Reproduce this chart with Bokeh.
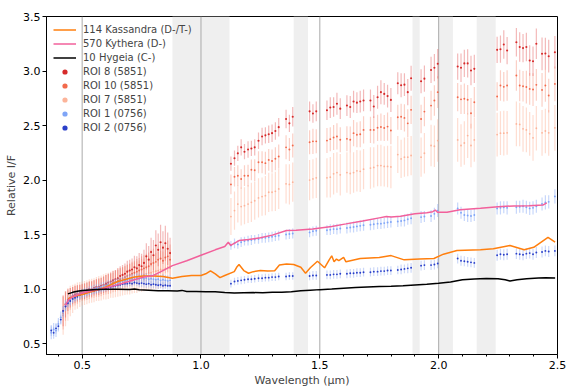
from bokeh.plotting import figure
from bokeh.models import (ColumnDataSource, BoxAnnotation, Span, FixedTicker,
                          Legend, LegendItem, NumeralTickFormatter)
from bokeh.embed import file_html
from bokeh.resources import INLINE

# ---------------- data ----------------
# masked (telluric / order-gap) wavelength bands, µm
bands = [(0.88, 1.12), (1.39, 1.45), (1.89, 1.92), (2.00, 2.06), (2.16, 2.24)]
ref_lines = [0.5, 1.0, 1.5, 2.0]

x_major = [0.5, 1.0, 1.5, 2.0, 2.5]
x_minor = [0.4, 0.6, 0.7, 0.8, 0.9, 1.1, 1.2, 1.3, 1.4, 1.6, 1.7, 1.8, 1.9,
           2.1, 2.2, 2.3, 2.4]
y_major = [0.5, 1.0, 1.5, 2.0, 2.5, 3.0, 3.5]

# reference asteroid spectra
hyg_wl = [0.44, 0.46, 0.48, 0.50, 0.53, 0.56, 0.60, 0.65, 0.70, 0.72, 0.74, 0.78,
          0.82, 0.86, 0.90, 0.92, 0.94, 0.98, 1.02, 1.06, 1.10, 1.14, 1.18, 1.22,
          1.26, 1.30, 1.34, 1.38, 1.42, 1.46, 1.50, 1.55, 1.60, 1.65, 1.70, 1.75,
          1.80, 1.85, 1.90, 1.95, 2.00, 2.05, 2.10, 2.15, 2.20, 2.25, 2.28, 2.30,
          2.33, 2.37, 2.42, 2.45, 2.49]
hyg_val = [0.956, 0.970, 0.980, 0.986, 0.992, 0.997, 0.998, 0.998, 0.997, 1.000,
           0.993, 0.990, 0.985, 0.985, 0.983, 0.988, 0.978, 0.977, 0.975, 0.975,
           0.968, 0.965, 0.967, 0.968, 0.966, 0.972, 0.971, 0.975, 0.985, 0.990,
           0.995, 1.000, 1.008, 1.015, 1.020, 1.023, 1.025, 1.030, 1.038, 1.045,
           1.053, 1.065, 1.085, 1.093, 1.096, 1.095, 1.085, 1.075, 1.085, 1.095,
           1.102, 1.103, 1.102]

kas_wl = [0.44, 0.46, 0.48, 0.50, 0.53, 0.56, 0.60, 0.65, 0.70, 0.72, 0.76, 0.80,
          0.84, 0.88, 0.92, 0.96, 1.00, 1.02, 1.04, 1.06, 1.08, 1.10, 1.14, 1.15,
          1.16, 1.18, 1.20, 1.22, 1.25, 1.28, 1.31, 1.33, 1.36, 1.39, 1.42, 1.44,
          1.46, 1.49, 1.52, 1.54, 1.55, 1.56, 1.57, 1.58, 1.60, 1.61, 1.67, 1.75,
          1.80, 1.855, 1.92, 1.98, 2.02, 2.077, 2.176, 2.23, 2.30, 2.36, 2.40,
          2.46, 2.49]
kas_val = [0.91, 0.93, 0.94, 0.95, 0.97, 0.99, 1.02, 1.07, 1.10, 1.11, 1.12, 1.12,
           1.115, 1.10, 1.115, 1.125, 1.125, 1.14, 1.168, 1.14, 1.105, 1.125, 1.16,
           1.20, 1.225, 1.17, 1.145, 1.16, 1.17, 1.165, 1.168, 1.22, 1.23, 1.225,
           1.20, 1.145, 1.195, 1.255, 1.195, 1.27, 1.305, 1.25, 1.275, 1.26, 1.29,
           1.25, 1.28, 1.29, 1.307, 1.268, 1.277, 1.28, 1.32, 1.353, 1.36, 1.369,
           1.40, 1.36, 1.383, 1.475, 1.43]

kyt_wl = [0.43, 0.44, 0.46, 0.50, 0.55, 0.58, 0.65, 0.72, 0.76, 0.80, 0.84, 0.88,
          0.94, 1.00, 1.06, 1.10, 1.115, 1.125, 1.16, 1.20, 1.25, 1.30, 1.36, 1.40,
          1.47, 1.55, 1.61, 1.68, 1.75, 1.78, 1.80, 1.84, 1.90, 1.95, 1.975, 1.986,
          1.995, 2.035, 2.09, 2.176, 2.25, 2.316, 2.38, 2.44, 2.455]
kyt_val = [0.85, 0.895, 0.93, 0.965, 0.99, 1.00, 1.04, 1.085, 1.11, 1.125, 1.17,
           1.215, 1.26, 1.31, 1.36, 1.39, 1.43, 1.40, 1.445, 1.455, 1.47, 1.495,
           1.537, 1.54, 1.552, 1.575, 1.598, 1.625, 1.653, 1.665, 1.66, 1.668,
           1.69, 1.70, 1.71, 1.725, 1.705, 1.705, 1.727, 1.742, 1.755, 1.763,
           1.765, 1.772, 1.79]

# ROI spectra: visible part
vis_wl_blue = [0.37, 0.38, 0.39, 0.40, 0.41, 0.42, 0.43, 0.44, 0.45, 0.46,
               0.47, 0.48, 0.49, 0.50, 0.51, 0.52, 0.53, 0.54, 0.55, 0.56,
               0.57, 0.58, 0.59, 0.60, 0.61, 0.62, 0.63, 0.64, 0.65, 0.66,
               0.67, 0.68, 0.69, 0.70, 0.71, 0.72, 0.73, 0.74, 0.75, 0.76,
               0.77, 0.78, 0.79, 0.80, 0.81, 0.82, 0.83, 0.84, 0.85, 0.86,
               0.87]
vis_wl_red = [0.42, 0.43, 0.44, 0.45, 0.46, 0.47, 0.48, 0.49, 0.50, 0.51,
              0.52, 0.53, 0.54, 0.55, 0.56, 0.57, 0.58, 0.59, 0.60, 0.61,
              0.62, 0.63, 0.64, 0.65, 0.66, 0.67, 0.68, 0.69, 0.70, 0.71,
              0.72, 0.73, 0.74, 0.75, 0.76, 0.77, 0.78, 0.79, 0.80, 0.81,
              0.82, 0.83, 0.84, 0.85, 0.86, 0.87]

roi8_vis = [0.80, 0.86, 0.90, 0.92, 0.94, 0.95, 0.96, 0.97, 0.975, 0.98,
            0.99, 1.00, 1.00, 1.01, 1.02, 1.02, 1.03, 1.04, 1.05, 1.06,
            1.07, 1.08, 1.09, 1.10, 1.12, 1.13, 1.14, 1.16, 1.17, 1.18,
            1.20, 1.19, 1.22, 1.21, 1.24, 1.30, 1.27, 1.34, 1.31, 1.40,
            1.36, 1.43, 1.38, 1.42, 1.37, 1.33]
roi8_vis_err = [0.14, 0.12, 0.10, 0.09, 0.08, 0.08, 0.075, 0.07, 0.07, 0.07,
                0.07, 0.07, 0.07, 0.07, 0.07, 0.075, 0.075, 0.075, 0.08, 0.08,
                0.08, 0.085, 0.085, 0.09, 0.09, 0.09, 0.095, 0.10, 0.10, 0.10,
                0.105, 0.11, 0.11, 0.115, 0.12, 0.12, 0.125, 0.13, 0.14, 0.14,
                0.15, 0.16, 0.15, 0.16, 0.15, 0.14]
roi10_vis = [0.78, 0.84, 0.88, 0.91, 0.93, 0.94, 0.95, 0.96, 0.97, 0.975,
             0.98, 0.99, 0.995, 1.00, 1.01, 1.015, 1.02, 1.03, 1.04, 1.045,
             1.05, 1.06, 1.07, 1.08, 1.09, 1.10, 1.11, 1.12, 1.13, 1.14,
             1.15, 1.16, 1.17, 1.18, 1.19, 1.20, 1.21, 1.23, 1.24, 1.25,
             1.27, 1.28, 1.26, 1.29, 1.30, 1.27]
roi10_vis_err = [0.15, 0.13, 0.11, 0.10, 0.09, 0.09, 0.085, 0.08, 0.08, 0.08,
                 0.08, 0.08, 0.08, 0.08, 0.08, 0.085, 0.085, 0.085, 0.09, 0.09,
                 0.09, 0.09, 0.095, 0.095, 0.10, 0.10, 0.10, 0.105, 0.105, 0.11,
                 0.11, 0.115, 0.115, 0.12, 0.12, 0.125, 0.125, 0.13, 0.13, 0.135,
                 0.14, 0.14, 0.14, 0.145, 0.145, 0.14]
roi7_vis = [0.76, 0.82, 0.86, 0.89, 0.91, 0.93, 0.94, 0.95, 0.96, 0.965,
            0.97, 0.98, 0.985, 0.99, 1.00, 1.005, 1.01, 1.02, 1.025, 1.03,
            1.04, 1.045, 1.05, 1.06, 1.065, 1.07, 1.08, 1.085, 1.09, 1.10,
            1.105, 1.11, 1.12, 1.125, 1.13, 1.14, 1.145, 1.15, 1.16, 1.165,
            1.17, 1.18, 1.175, 1.19, 1.20, 1.19]
roi7_vis_err = [0.18, 0.16, 0.15, 0.14, 0.13, 0.12, 0.12, 0.115, 0.11, 0.11,
                0.11, 0.11, 0.11, 0.11, 0.11, 0.115, 0.115, 0.115, 0.12, 0.12,
                0.12, 0.125, 0.125, 0.13, 0.13, 0.13, 0.135, 0.135, 0.14, 0.14,
                0.14, 0.145, 0.145, 0.15, 0.15, 0.155, 0.155, 0.16, 0.16, 0.165,
                0.17, 0.17, 0.17, 0.175, 0.175, 0.17]
roi1_vis = [0.60, 0.63, 0.62, 0.68, 0.74, 0.79, 0.85, 0.88, 0.90, 0.92,
            0.93, 0.94, 0.95, 0.96, 0.97, 0.975, 0.985, 0.99, 1.00, 1.005,
            1.01, 1.02, 1.025, 1.03, 1.04, 1.045, 1.05, 1.055, 1.06, 1.07,
            1.075, 1.08, 1.085, 1.09, 1.095, 1.09, 1.10, 1.095, 1.10, 1.095,
            1.10, 1.09, 1.095, 1.09, 1.085, 1.09, 1.08, 1.085, 1.08, 1.075,
            1.08]
roi1_vis_err = [0.06, 0.06, 0.06, 0.055, 0.055, 0.05, 0.05, 0.045, 0.045, 0.045,
                0.04, 0.04, 0.04, 0.04, 0.04, 0.04, 0.04, 0.04, 0.04, 0.04,
                0.04, 0.04, 0.04, 0.04, 0.04, 0.04, 0.04, 0.04, 0.04, 0.04,
                0.04, 0.04, 0.04, 0.045, 0.045, 0.045, 0.045, 0.045, 0.045, 0.045,
                0.045, 0.045, 0.045, 0.05, 0.05, 0.05, 0.05, 0.05, 0.05, 0.05,
                0.05]
roi2_vis = [0.62, 0.60, 0.64, 0.66, 0.72, 0.80, 0.84, 0.87, 0.89, 0.91,
            0.92, 0.93, 0.945, 0.955, 0.96, 0.97, 0.975, 0.98, 0.985, 0.99,
            0.995, 1.00, 1.005, 1.01, 1.015, 1.02, 1.025, 1.03, 1.035, 1.04,
            1.045, 1.05, 1.05, 1.055, 1.05, 1.06, 1.055, 1.05, 1.055, 1.05,
            1.045, 1.05, 1.04, 1.045, 1.04, 1.035, 1.04, 1.03, 1.035, 1.03,
            1.03]
roi2_vis_err = [0.05, 0.055, 0.05, 0.05, 0.045, 0.045, 0.04, 0.04, 0.04, 0.035,
                0.035, 0.035, 0.035, 0.035, 0.035, 0.03, 0.03, 0.03, 0.03, 0.03,
                0.03, 0.03, 0.03, 0.03, 0.03, 0.03, 0.03, 0.03, 0.03, 0.03,
                0.03, 0.03, 0.03, 0.03, 0.03, 0.03, 0.03, 0.03, 0.035, 0.035,
                0.035, 0.035, 0.035, 0.035, 0.035, 0.035, 0.035, 0.035, 0.035, 0.035,
                0.035]

# ROI spectra: near-infrared part
nir_wl = [1.126, 1.141, 1.155, 1.169, 1.183, 1.198, 1.212, 1.226, 1.242, 1.257,
          1.271, 1.285, 1.299, 1.313, 1.327,
          1.358, 1.372, 1.386,
          1.457, 1.471, 1.485,
          1.530, 1.544, 1.558, 1.572, 1.586,
          1.614, 1.628, 1.642, 1.656, 1.670, 1.684,
          1.713, 1.727,
          1.743, 1.757, 1.771, 1.785, 1.799,
          1.828, 1.842, 1.856, 1.870, 1.884,
          1.926, 1.940,
          1.968, 1.982, 1.996,
          2.080, 2.094, 2.108, 2.122, 2.136, 2.150,
          2.246, 2.260, 2.274, 2.288,
          2.327, 2.341, 2.355, 2.369, 2.383, 2.397, 2.411,
          2.435, 2.449, 2.463,
          2.489]

roi8_nir = [2.15, 2.20, 2.245, 2.30, 2.26, 2.28, 2.29, 2.30, 2.36, 2.40,
            2.41, 2.42, 2.43, 2.45, 2.485,
            2.56, 2.52, 2.58,
            2.63, 2.61, 2.63,
            2.64, 2.665, 2.67, 2.70, 2.655,
            2.683, 2.67, 2.72, 2.71, 2.72, 2.73,
            2.73, 2.674,
            2.76, 2.806, 2.79, 2.77, 2.735,
            2.888, 2.87, 2.875, 2.806, 2.934,
            2.906, 2.93,
            3.01, 3.03, 3.066,
            3.041, 3.03, 3.07, 3.07, 3.005, 3.02,
            3.194, 3.20, 3.243, 3.188,
            3.264, 3.22, 3.21, 3.22, 3.096, 3.09, 3.25,
            3.158, 3.16, 3.136,
            3.172]
roi8_nir_err = [0.065, 0.07, 0.07, 0.075, 0.07, 0.075, 0.07, 0.075, 0.075, 0.08,
                0.075, 0.08, 0.08, 0.08, 0.085,
                0.085, 0.08, 0.09,
                0.09, 0.085, 0.09,
                0.09, 0.095, 0.09, 0.10, 0.095,
                0.095, 0.10, 0.10, 0.095, 0.10, 0.10,
                0.10, 0.105,
                0.105, 0.11, 0.10, 0.105, 0.11,
                0.10, 0.11, 0.105, 0.12, 0.115,
                0.11, 0.12,
                0.12, 0.125, 0.135,
                0.12, 0.13, 0.125, 0.13, 0.135, 0.13,
                0.12, 0.125, 0.13, 0.125,
                0.13, 0.135, 0.13, 0.13, 0.14, 0.135, 0.14,
                0.15, 0.145, 0.15,
                0.15]
roi10_nir = [1.96, 2.03, 2.04, 2.01, 2.04, 2.04, 2.094, 2.09, 2.163, 2.163,
             2.155, 2.185, 2.175, 2.195, 2.216,
             2.30, 2.28, 2.317,
             2.347, 2.355, 2.355,
             2.362, 2.375, 2.39, 2.40, 2.37,
             2.378, 2.37, 2.43, 2.415, 2.42, 2.46,
             2.46, 2.46,
             2.479, 2.486, 2.477, 2.49, 2.454,
             2.576, 2.58, 2.57, 2.52, 2.644,
             2.56, 2.628,
             2.683, 2.73, 2.806,
             2.76, 2.74, 2.745, 2.737, 2.613, 2.714,
             2.766, 2.867, 2.855, 2.867,
             2.959, 2.867, 2.86, 2.853, 2.836, 2.83, 2.873,
             2.827, 2.867, 2.775,
             2.882]
roi10_nir_err = [0.09, 0.09, 0.095, 0.09, 0.095, 0.10, 0.095, 0.10, 0.10, 0.10,
                 0.105, 0.10, 0.105, 0.105, 0.11,
                 0.11, 0.105, 0.11,
                 0.11, 0.115, 0.11,
                 0.115, 0.11, 0.115, 0.12, 0.115,
                 0.115, 0.12, 0.12, 0.115, 0.12, 0.125,
                 0.12, 0.125,
                 0.12, 0.125, 0.12, 0.13, 0.125,
                 0.115, 0.12, 0.125, 0.13, 0.13,
                 0.13, 0.135,
                 0.135, 0.14, 0.145,
                 0.13, 0.135, 0.14, 0.135, 0.14, 0.14,
                 0.13, 0.14, 0.135, 0.14,
                 0.14, 0.145, 0.14, 0.15, 0.145, 0.15, 0.145,
                 0.155, 0.15, 0.155,
                 0.16]
roi7_nir = [1.665, 1.72, 1.78, 1.757, 1.765, 1.78, 1.796, 1.81, 1.836, 1.848,
            1.857, 1.888, 1.888, 1.897, 1.919,
            1.965, 1.96, 1.98,
            2.00, 2.01, 2.02,
            2.02, 2.026, 2.057, 2.069, 2.048,
            2.069, 2.06, 2.069, 2.085, 2.08, 2.10,
            2.11, 2.116,
            2.133, 2.133, 2.125, 2.125, 2.12,
            2.234, 2.194, 2.21, 2.21, 2.225,
            2.21, 2.246,
            2.317, 2.31, 2.362,
            2.368, 2.317, 2.34, 2.408, 2.317, 2.368,
            2.417, 2.43, 2.43, 2.433,
            2.515, 2.51, 2.47, 2.46, 2.424, 2.387, 2.475,
            2.433, 2.45, 2.433,
            2.479]
roi7_nir_err = [0.17, 0.175, 0.17, 0.175, 0.17, 0.175, 0.18, 0.175, 0.18, 0.175,
                0.18, 0.18, 0.175, 0.18, 0.185,
                0.18, 0.185, 0.18,
                0.185, 0.18, 0.185,
                0.18, 0.185, 0.19, 0.185, 0.19,
                0.185, 0.19, 0.185, 0.19, 0.19, 0.185,
                0.19, 0.185,
                0.19, 0.19, 0.185, 0.19, 0.195,
                0.17, 0.175, 0.18, 0.175, 0.18,
                0.18, 0.185,
                0.19, 0.19, 0.195,
                0.20, 0.195, 0.20, 0.205, 0.20, 0.20,
                0.20, 0.20, 0.205, 0.20,
                0.205, 0.20, 0.21, 0.205, 0.20, 0.21, 0.205,
                0.21, 0.205, 0.21,
                0.21]
roi1_nir = [1.40, 1.42, 1.41, 1.43, 1.44, 1.445, 1.45, 1.455, 1.46, 1.47,
            1.47, 1.475, 1.48, 1.485, 1.49,
            1.50, 1.505, 1.51,
            1.52, 1.53, 1.535,
            1.54, 1.545, 1.55, 1.55, 1.555,
            1.56, 1.565, 1.57, 1.575, 1.58, 1.585,
            1.59, 1.595,
            1.60, 1.60, 1.605, 1.61, 1.615,
            1.62, 1.625, 1.63, 1.64, 1.65,
            1.66, 1.665,
            1.67, 1.69, 1.72,
            1.74, 1.70, 1.68, 1.675, 1.67, 1.68,
            1.74, 1.745, 1.75, 1.745,
            1.75, 1.755, 1.76, 1.75, 1.74, 1.745, 1.76,
            1.78, 1.795, 1.80,
            1.85]
roi1_nir_err = [0.04, 0.045, 0.04, 0.045, 0.04, 0.045, 0.045, 0.04, 0.045, 0.045,
                0.045, 0.045, 0.045, 0.045, 0.045,
                0.045, 0.045, 0.045,
                0.045, 0.045, 0.045,
                0.045, 0.05, 0.045, 0.05, 0.045,
                0.05, 0.045, 0.05, 0.05, 0.05, 0.05,
                0.05, 0.05,
                0.05, 0.05, 0.05, 0.05, 0.05,
                0.05, 0.05, 0.055, 0.05, 0.055,
                0.055, 0.05,
                0.055, 0.055, 0.06,
                0.055, 0.055, 0.055, 0.06, 0.055, 0.055,
                0.055, 0.06, 0.055, 0.06,
                0.06, 0.055, 0.06, 0.06, 0.06, 0.06, 0.06,
                0.06, 0.065, 0.06,
                0.065]
roi2_nir = [1.05, 1.07, 1.075, 1.08, 1.085, 1.09, 1.09, 1.095, 1.10, 1.10,
            1.105, 1.105, 1.11, 1.11, 1.115,
            1.115, 1.12, 1.12,
            1.12, 1.125, 1.125,
            1.13, 1.13, 1.135, 1.135, 1.14,
            1.14, 1.145, 1.145, 1.15, 1.15, 1.155,
            1.155, 1.16,
            1.16, 1.165, 1.165, 1.17, 1.17,
            1.175, 1.18, 1.185, 1.19, 1.195,
            1.215, 1.22,
            1.22, 1.225, 1.235,
            1.28, 1.26, 1.255, 1.25, 1.245, 1.24,
            1.31, 1.32, 1.315, 1.32,
            1.325, 1.32, 1.315, 1.325, 1.33, 1.32, 1.335,
            1.34, 1.35, 1.345,
            1.35]
roi2_nir_err = [0.035, 0.035, 0.035, 0.035, 0.035, 0.035, 0.035, 0.035, 0.035, 0.035,
                0.035, 0.035, 0.035, 0.035, 0.035,
                0.035, 0.035, 0.035,
                0.04, 0.04, 0.04,
                0.04, 0.04, 0.04, 0.04, 0.04,
                0.04, 0.04, 0.04, 0.04, 0.04, 0.04,
                0.04, 0.04,
                0.04, 0.04, 0.04, 0.04, 0.04,
                0.04, 0.045, 0.04, 0.045, 0.045,
                0.045, 0.045,
                0.045, 0.045, 0.045,
                0.045, 0.045, 0.045, 0.045, 0.045, 0.045,
                0.05, 0.05, 0.05, 0.05,
                0.05, 0.05, 0.05, 0.05, 0.05, 0.05, 0.05,
                0.05, 0.05, 0.05,
                0.05]

FONT = "DejaVu Sans"

p = figure(width=578, height=390, x_range=(0.35, 2.5), y_range=(0.4, 3.5),
           output_backend="svg", toolbar_location=None,
           min_border_left=46, min_border_right=21, min_border_top=16,
           min_border_bottom=36)
p.grid.visible = False
p.outline_line_color = "black"
p.outline_line_width = 1
p.background_fill_color = "white"

for (a, b) in bands:
    p.add_layout(BoxAnnotation(left=a, right=b, fill_color="#efefef",
                               fill_alpha=1.0, line_alpha=0, level="underlay"))
for xv in ref_lines:
    p.add_layout(Span(location=xv, dimension="height", line_color="#aaaaaa",
                      line_width=1, level="underlay"))


def roi(vis_wl, vis_v, vis_e, v_nir, e_nir, color, bar_color, bar_alpha, size):
    xs = vis_wl + nir_wl
    ys = vis_v + v_nir
    es = vis_e + e_nir
    src = ColumnDataSource(dict(x=xs, y=ys,
                                lo=[y - e for y, e in zip(ys, es)],
                                hi=[y + e for y, e in zip(ys, es)]))
    p.segment("x", "lo", "x", "hi", source=src, line_color=bar_color,
              line_alpha=bar_alpha, line_width=1.2)
    pts = p.scatter("x", "y", source=src, size=size, color=color, line_width=0)
    return pts


C8, C10, C7, C1, C2 = "#d62a2a", "#f26a4c", "#fcb49a", "#7fa5f7", "#2a3fc9"
r7 = roi(vis_wl_red, roi7_vis, roi7_vis_err, roi7_nir, roi7_nir_err, C7, "#fcb49a", 0.45, 1.8)
r10 = roi(vis_wl_red, roi10_vis, roi10_vis_err, roi10_nir, roi10_nir_err, C10, "#f58a70", 0.4, 1.9)
r8 = roi(vis_wl_red, roi8_vis, roi8_vis_err, roi8_nir, roi8_nir_err, C8, "#e05050", 0.4, 2.1)
r1 = roi(vis_wl_blue, roi1_vis, roi1_vis_err, roi1_nir, roi1_nir_err, C1, "#8fb0f8", 0.5, 1.9)
r2 = roi(vis_wl_blue, roi2_vis, roi2_vis_err, roi2_nir, roi2_nir_err, C2, "#8fa8f0", 0.45, 1.9)

# legend-only markers (a NaN point is never drawn on the plot)
NAN = float("nan")
dummy = ColumnDataSource(dict(x=[NAN], y=[NAN]))
legend_dots = {c: p.scatter("x", "y", source=dummy, size=5, color=c, line_width=0)
               for c in (C8, C10, C7, C1, C2)}

r_kas = p.line(kas_wl, kas_val, line_color="#ff7f0e", line_width=1.5)
r_kyt = p.line(kyt_wl, kyt_val, line_color="#f2609b", line_width=1.5)
r_hyg = p.line(hyg_wl, hyg_val, line_color="black", line_width=1.5)

legend = Legend(items=[
    LegendItem(label="114 Kassandra (D-/T-)", renderers=[r_kas]),
    LegendItem(label="570 Kythera (D-)", renderers=[r_kyt]),
    LegendItem(label="10 Hygeia (C-)", renderers=[r_hyg]),
    LegendItem(label="ROI 8 (5851)", renderers=[legend_dots[C8]]),
    LegendItem(label="ROI 10 (5851)", renderers=[legend_dots[C10]]),
    LegendItem(label="ROI 7 (5851)", renderers=[legend_dots[C7]]),
    LegendItem(label="ROI 1 (0756)", renderers=[legend_dots[C1]]),
    LegendItem(label="ROI 2 (0756)", renderers=[legend_dots[C2]]),
], location="top_left")
legend.background_fill_alpha = 0
legend.border_line_alpha = 0
legend.margin = 2
legend.padding = 5
legend.spacing = 1
legend.glyph_width = 23
legend.glyph_height = 13
legend.label_height = 13
legend.label_standoff = 7
legend.label_text_font = FONT
legend.label_text_font_size = "10px"
p.add_layout(legend)

p.xaxis.ticker = FixedTicker(ticks=x_major, minor_ticks=x_minor)
p.yaxis.ticker = FixedTicker(ticks=y_major, minor_ticks=[])
p.xaxis.formatter = NumeralTickFormatter(format="0.0")
p.yaxis.formatter = NumeralTickFormatter(format="0.0")
p.xaxis.axis_label = "Wavelength (µm)"
p.yaxis.axis_label = "Relative I/F"
for ax in (p.xaxis, p.yaxis):
    ax.axis_label_text_font = FONT
    ax.axis_label_text_font_size = "11px"
    ax.axis_label_text_font_style = "normal"
    ax.major_label_text_font = FONT
    ax.major_label_text_font_size = "11px"
    ax.major_label_text_color = "black"
    ax.major_tick_out = 4
    ax.major_tick_in = 0
    ax.minor_tick_out = 2
    ax.minor_tick_in = 0
    ax.major_label_standoff = 2
    ax.axis_label_standoff = 2
    ax.axis_line_color = "black"

open("out.html", "w").write(file_html(p, INLINE))
